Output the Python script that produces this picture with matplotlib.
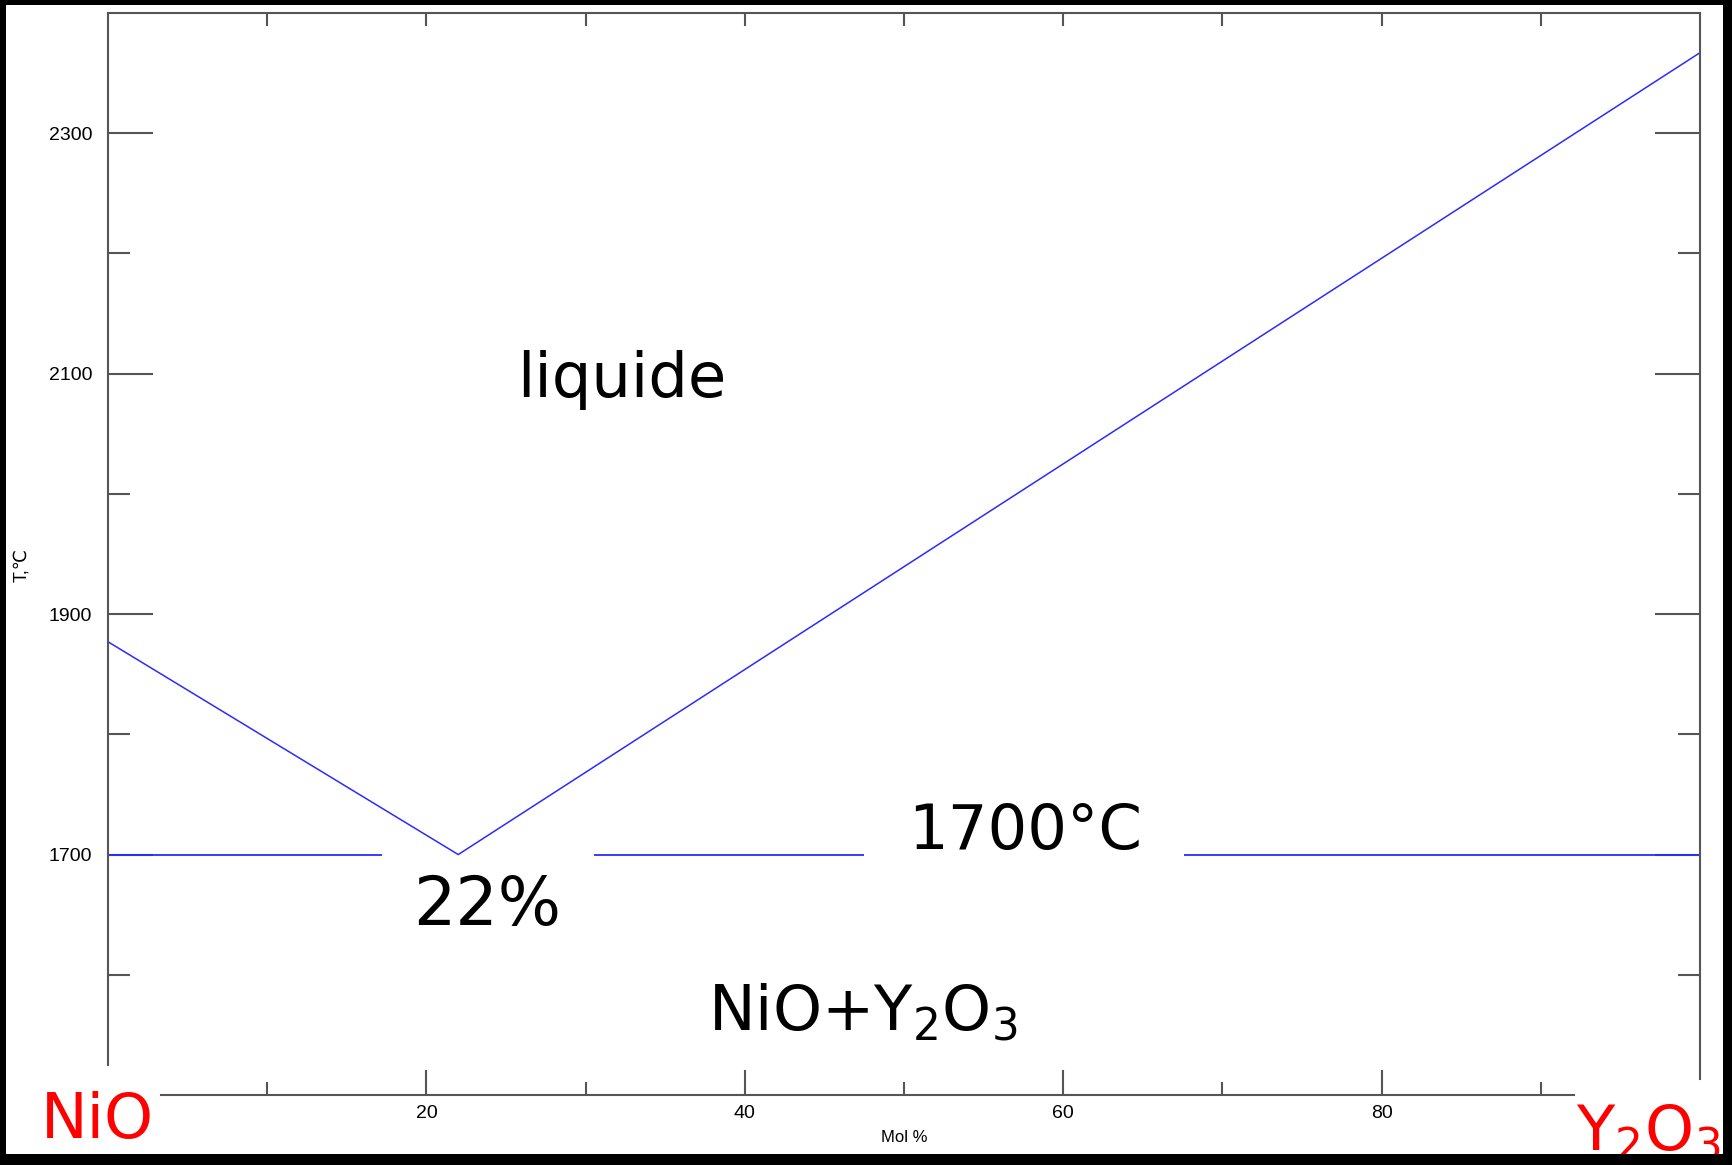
import matplotlib
matplotlib.use("Agg")
import matplotlib.pyplot as plt
from matplotlib.patches import Rectangle

# ---- data ----
liq_x = [0, 22, 100]
liq_T = [1877, 1700, 2367]
iso_T = 1700
iso_start = [0, 30.5, 67.6]
iso_end = [17.2, 47.5, 100]
x_major = [20, 40, 60, 80]
x_minor = [10, 30, 50, 70, 90]
y_major = [1700, 1900, 2100, 2300]
y_minor = [1600, 1800, 2000, 2200]

W, H = 1733, 1165
fig = plt.figure(figsize=(W / 100, H / 100), dpi=100)
fig.patch.set_facecolor("white")

left, right, top, bottom = 108, 1700, 13, 1095
ax = fig.add_axes([left / W, (H - bottom) / H, (right - left) / W, (bottom - top) / H])
ax.set_xlim(0, 100)
ax.set_ylim(1500, 2400)

gray = "#555555"
for s in ax.spines.values():
    s.set_color(gray)
    s.set_linewidth(1.5)
ax.spines["left"].set_bounds(1525, 2400)
ax.spines["right"].set_bounds(1513, 2400)
ax.spines["bottom"].set_bounds(3.3, 92.1)

ax.plot(liq_x, liq_T, color="#2b2bff", lw=1.1)
ax.hlines([iso_T] * len(iso_start), iso_start, iso_end, color="#2b2bff", lw=1.3)

tickfont = dict(family=["Liberation Sans", "DejaVu Sans"], size=14)
ax.set_xticks(x_major)
ax.set_xticks(x_minor, minor=True)
ax.set_yticks(y_major)
ax.set_yticks(y_minor, minor=True)
ax.set_xticklabels([str(v) for v in x_major], **tickfont)
ax.set_yticklabels([str(v) for v in y_major], **tickfont)
ax.tick_params(axis="x", which="both", direction="in", top=False, bottom=True,
               color=gray, width=1.5, pad=7)
ax.tick_params(axis="x", which="major", length=18)
ax.tick_params(axis="x", which="minor", length=9.4)
ax.tick_params(axis="y", which="both", direction="in", left=True, right=True,
               color=gray, width=1.5, pad=11.5)
ax.tick_params(axis="y", which="major", length=32.4)
ax.tick_params(axis="y", which="minor", length=16)

# top ticks
ax2 = ax.twiny()
ax2.set_xlim(ax.get_xlim())
ax2.set_xticks(x_minor + x_major)
ax2.set_xticklabels([])
ax2.tick_params(axis="x", direction="in", length=9.4, width=1.5, color=gray)
for s in ax2.spines.values():
    s.set_visible(False)

ax.set_xlabel("Mol %", family=["Liberation Sans", "DejaVu Sans"], size=12, va="center")
ax.xaxis.set_label_coords(0.5, -(1137 - bottom) / (bottom - top))
ax.set_ylabel("T,\u2103", family=["Liberation Sans", "DejaVu Sans"], size=13, va="center")
ax.yaxis.set_label_coords((22 - left) / (right - left), (bottom - 565) / (bottom - top))

plt.rcParams["mathtext.fontset"] = "dejavusans"
big = dict(family="DejaVu Sans", size=45, color="black", ha="center", va="baseline")
ax.text(32.3, 2081, "liquide", **big)
ax.text(57.6, 1705, "1700°C", **big)
ax.text(23.8, 1641, "22%", **{**big, "size": 48})
ax.text(47.4, 1554, "NiO+Y$_2$O$_3$", **big)

red = dict(family="DejaVu Sans", size=45, color="red", va="baseline", zorder=5)
fig.text(41 / W, (H - 1138) / H, "NiO", ha="left", **red)
fig.text(1576 / W, (H - 1150) / H, "Y$_2$O$_3$", ha="left", **red)

# black frame on top
black = dict(facecolor="black", edgecolor="none", transform=fig.transFigure, zorder=100)
fig.add_artist(Rectangle((0, 0), 6 / W, 1, **black))
fig.add_artist(Rectangle((0, (H - 5) / H), 1, 5 / H, **black))
fig.add_artist(Rectangle((1723 / W, 0), 1 - 1723 / W, 1, **black))
fig.add_artist(Rectangle((0, 0), 1, (H - 1154) / H, **black))

fig.savefig("out.png", dpi=100, facecolor=fig.get_facecolor())
